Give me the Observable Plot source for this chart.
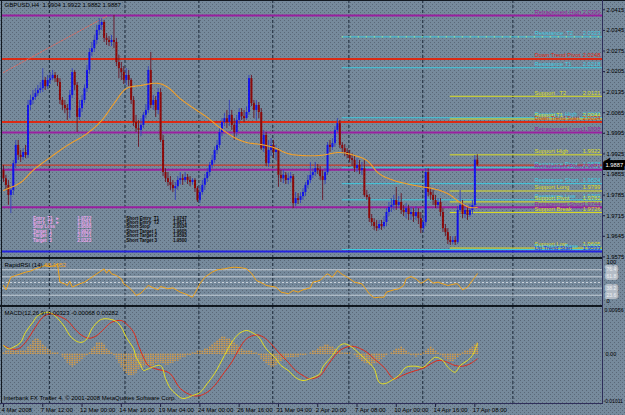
<!DOCTYPE html>
<html><head><meta charset="utf-8">
<script src="https://cdn.jsdelivr.net/npm/d3@7"></script>
<script src="https://cdn.jsdelivr.net/npm/@observablehq/plot@0.6"></script>
<style>
html,body{margin:0;padding:0;background:#768a9c;}
#chart{position:relative;width:625px;height:415px;overflow:hidden;background-color:#768a9c;
background-image:url("data:image/svg+xml;utf8,<svg xmlns='http://www.w3.org/2000/svg' width='4' height='4'><rect x='0' y='0' width='1' height='1' fill='%235a6878'/><rect x='2' y='2' width='1' height='1' fill='%235a6878'/></svg>");}
#chart svg{position:absolute;left:0;}
.ln{position:absolute;background:#111820;}
</style></head><body><div id="chart"></div><script>
// ---------- DATA ----------
const title = "GBPUSD,H4  1.9904 1.9922 1.9882 1.9887";
const openP = [1.9869,1.9841,1.9818,1.9784,1.9801,1.9892,1.9954,1.9920,1.9913,1.9930,
1.9920,2.0090,2.0107,2.0117,2.0130,2.0141,2.0147,2.0175,2.0154,2.0175,
2.0181,2.0192,2.0181,2.0168,2.0107,2.0090,2.0079,2.0073,2.0124,2.0202,
2.0158,2.0049,2.0079,2.0107,2.0147,2.0209,2.0270,2.0283,2.0311,2.0345,
2.0362,2.0372,2.0318,2.0311,2.0304,2.0311,2.0304,2.0236,2.0215,2.0202,
2.0175,2.0192,2.0175,2.0107,2.0032,2.0011,2.0005,2.0022,2.0056,2.0073,
2.0209,2.0090,2.0107,2.0073,2.0134,1.9971,1.9862,1.9841,1.9828,1.9818,
1.9807,1.9814,1.9835,1.9841,1.9835,1.9845,1.9835,1.9828,1.9835,1.9807,
1.9767,1.9794,1.9818,1.9841,1.9862,1.9886,1.9903,1.9937,1.9954,1.9998,
2.0032,2.0045,2.0032,2.0056,2.0022,1.9998,2.0039,2.0066,2.0052,2.0045,
2.0066,2.0181,2.0096,2.0073,2.0090,2.0066,1.9943,1.9988,1.9892,1.9937,
1.9954,1.9930,1.9937,1.9852,1.9841,1.9852,1.9835,1.9841,1.9848,1.9756,
1.9773,1.9767,1.9780,1.9794,1.9818,1.9835,1.9852,1.9862,1.9875,1.9869,
1.9848,1.9835,1.9862,1.9954,1.9947,1.9960,2.0005,2.0028,1.9954,1.9943,
1.9930,1.9920,1.9909,1.9903,1.9875,1.9886,1.9869,1.9875,1.9784,1.9777,
1.9705,1.9692,1.9678,1.9671,1.9685,1.9678,1.9692,1.9726,1.9743,1.9750,
1.9767,1.9750,1.9760,1.9733,1.9726,1.9739,1.9719,1.9726,1.9712,1.9726,
1.9705,1.9671,1.9692,1.9862,1.9794,1.9784,1.9767,1.9750,1.9760,1.9726,
1.9671,1.9658,1.9631,1.9624,1.9631,1.9624,1.9733,1.9750,1.9719,1.9733,
1.9716,1.9733,1.9750,1.9904];
const highP = [1.9886,1.9852,1.9835,1.9807,1.9903,1.9971,1.9971,1.9937,1.9943,1.9954,
2.0107,2.0124,2.0141,2.0147,2.0158,2.0168,2.0215,2.0185,2.0192,2.0202,
2.0209,2.0202,2.0192,2.0181,2.0117,2.0107,2.0093,2.0141,2.0215,2.0209,
2.0168,2.0107,2.0124,2.0161,2.0226,2.0283,2.0304,2.0328,2.0362,2.0385,
2.0385,2.0379,2.0334,2.0324,2.0328,2.0396,2.0318,2.0260,2.0236,2.0222,
2.0215,2.0209,2.0181,2.0120,2.0056,2.0039,2.0045,2.0066,2.0093,2.0222,
2.0270,2.0124,2.0120,2.0147,2.0147,1.9988,1.9875,1.9862,1.9848,1.9835,
1.9828,1.9848,1.9862,1.9855,1.9862,1.9855,1.9848,1.9841,1.9841,1.9814,
1.9814,1.9835,1.9855,1.9875,1.9896,1.9920,1.9950,1.9971,2.0011,2.0045,
2.0062,2.0073,2.0107,2.0073,2.0045,2.0056,2.0079,2.0079,2.0073,2.0086,
2.0192,2.0192,2.0107,2.0107,2.0100,2.0079,2.0005,1.9998,1.9971,1.9977,
1.9971,1.9954,1.9943,1.9869,1.9869,1.9862,1.9858,1.9862,1.9855,1.9794,
1.9790,1.9794,1.9807,1.9828,1.9852,1.9896,1.9875,1.9896,1.9889,1.9882,
1.9869,1.9875,1.9964,1.9971,1.9977,2.0018,2.0045,2.0039,1.9964,1.9957,
1.9943,1.9937,1.9926,1.9920,1.9909,1.9903,1.9896,1.9903,1.9801,1.9787,
1.9719,1.9705,1.9699,1.9699,1.9699,1.9712,1.9739,1.9760,1.9773,1.9784,
1.9811,1.9780,1.9790,1.9750,1.9756,1.9750,1.9743,1.9739,1.9746,1.9739,
1.9726,1.9712,1.9875,1.9875,1.9807,1.9801,1.9784,1.9773,1.9773,1.9739,
1.9685,1.9671,1.9644,1.9644,1.9644,1.9746,1.9801,1.9767,1.9753,1.9746,
1.9753,1.9767,1.9920,1.9922];
const lowP = [1.9828,1.9801,1.9750,1.9722,1.9784,1.9875,1.9903,1.9896,1.9903,1.9909,
1.9909,2.0073,2.0093,2.0107,2.0120,2.0130,2.0134,2.0141,2.0144,2.0161,
2.0175,2.0168,2.0154,2.0093,2.0073,2.0062,2.0039,2.0045,2.0113,2.0141,
1.9998,2.0039,2.0066,2.0096,2.0134,2.0195,2.0256,2.0270,2.0297,2.0328,
2.0345,2.0304,2.0294,2.0290,2.0290,2.0283,2.0222,2.0181,2.0175,2.0161,
2.0158,2.0154,2.0093,2.0018,1.9998,1.9947,1.9984,2.0011,2.0045,2.0062,
2.0079,2.0073,2.0049,2.0059,1.9964,1.9848,1.9828,1.9814,1.9801,1.9794,
1.9767,1.9801,1.9821,1.9818,1.9828,1.9821,1.9814,1.9818,1.9794,1.9760,
1.9756,1.9784,1.9801,1.9828,1.9848,1.9875,1.9892,1.9923,1.9943,1.9984,
2.0018,2.0011,2.0018,2.0005,1.9971,1.9984,2.0025,2.0039,2.0032,2.0039,
2.0056,2.0086,2.0045,2.0039,2.0045,1.9937,1.9930,1.9882,1.9879,1.9916,
1.9909,1.9903,1.9811,1.9828,1.9824,1.9821,1.9821,1.9828,1.9739,1.9746,
1.9753,1.9756,1.9767,1.9780,1.9807,1.9824,1.9841,1.9848,1.9855,1.9835,
1.9767,1.9821,1.9852,1.9930,1.9937,1.9947,1.9998,1.9943,1.9930,1.9916,
1.9909,1.9896,1.9882,1.9862,1.9862,1.9855,1.9852,1.9777,1.9767,1.9692,
1.9678,1.9665,1.9661,1.9665,1.9665,1.9671,1.9678,1.9712,1.9726,1.9733,
1.9733,1.9739,1.9719,1.9712,1.9705,1.9699,1.9699,1.9692,1.9699,1.9685,
1.9654,1.9658,1.9678,1.9780,1.9767,1.9750,1.9739,1.9739,1.9712,1.9658,
1.9644,1.9617,1.9614,1.9617,1.9614,1.9617,1.9719,1.9705,1.9705,1.9699,
1.9709,1.9719,1.9739,1.9882];
const closeP = [1.9841,1.9818,1.9784,1.9801,1.9892,1.9954,1.9920,1.9913,1.9930,1.9920,
2.0090,2.0107,2.0117,2.0130,2.0141,2.0147,2.0175,2.0154,2.0175,2.0181,
2.0192,2.0181,2.0168,2.0107,2.0090,2.0079,2.0073,2.0124,2.0202,2.0158,
2.0049,2.0079,2.0107,2.0147,2.0209,2.0270,2.0283,2.0311,2.0345,2.0362,
2.0372,2.0318,2.0311,2.0304,2.0311,2.0304,2.0236,2.0215,2.0202,2.0175,
2.0192,2.0175,2.0107,2.0032,2.0011,2.0005,2.0022,2.0056,2.0073,2.0209,
2.0090,2.0107,2.0073,2.0134,1.9971,1.9862,1.9841,1.9828,1.9818,1.9807,
1.9814,1.9835,1.9841,1.9835,1.9845,1.9835,1.9828,1.9835,1.9807,1.9767,
1.9794,1.9818,1.9841,1.9862,1.9886,1.9903,1.9937,1.9954,1.9998,2.0032,
2.0045,2.0032,2.0056,2.0022,1.9998,2.0039,2.0066,2.0052,2.0045,2.0066,
2.0181,2.0096,2.0073,2.0090,2.0066,1.9943,1.9988,1.9892,1.9937,1.9954,
1.9930,1.9937,1.9852,1.9841,1.9852,1.9835,1.9841,1.9848,1.9756,1.9773,
1.9767,1.9780,1.9794,1.9818,1.9835,1.9852,1.9862,1.9875,1.9869,1.9848,
1.9835,1.9862,1.9954,1.9947,1.9960,2.0005,2.0028,1.9954,1.9943,1.9930,
1.9920,1.9909,1.9903,1.9875,1.9886,1.9869,1.9875,1.9784,1.9777,1.9705,
1.9692,1.9678,1.9671,1.9685,1.9678,1.9692,1.9726,1.9743,1.9750,1.9767,
1.9750,1.9760,1.9733,1.9726,1.9739,1.9719,1.9726,1.9712,1.9726,1.9705,
1.9671,1.9692,1.9862,1.9794,1.9784,1.9767,1.9750,1.9760,1.9726,1.9671,
1.9658,1.9631,1.9624,1.9631,1.9624,1.9733,1.9750,1.9719,1.9733,1.9716,
1.9733,1.9750,1.9904,1.9887];

// moving average readings (bar index, value)
const maBar = [0,7,12,19,26,34,40,45,50,56,63,67,72,77,83,88,94,99,105,110,116,121,129,137,143,148,153,159,164,170,175,181,186,190,193];
const maVal = [1.9801,1.9828,1.9869,1.9913,1.9954,1.9994,2.0039,2.0096,2.0147,2.0158,2.0165,2.0151,2.0113,2.0083,2.0049,2.0015,1.9981,1.9964,1.9957,1.9947,1.9926,1.9920,1.9920,1.9930,1.9920,1.9903,1.9858,1.9835,1.9824,1.9814,1.9807,1.9790,1.9760,1.9743,1.9743];

// dotted trend line
const trendBar = [0, 42];
const trendVal = [2.0202, 2.0393];

// horizontal levels
const levelName = ["Retracement High","Resistance  T2","Down Trend Pivot","Resistance T1","Support   T2","Resistance High","Support T1","Down Trend Start","Retracement Long","Support High","Resistance Pivot","Retracement Pivot","Resistance Short","Support Long","Resistance Low","Support Pivot","Retracement Short","Support Break","Support Low","Resistance Base","Up Trend Start"];
const levelPrice = [2.0396,2.0323,2.0248,2.0218,2.0121,2.0048,2.0044,2.0034,1.9998,1.9922,1.9878,1.9871,1.9824,1.9799,1.9769,1.9762,1.9744,1.9726,1.9605,1.9600,1.9593];
const levelKind = ["retr","res2","down","res","sup","res","sup","down","retr","sup","res","retr","res","sup","res","sup","retr","sup","sup","res","up"];
const levelFrom = [0,138,0,138,182,138,182,0,0,182,138,0,138,182,138,182,0,182,182,138,0];
const bidPrice = 1.9887;

// small info tables drawn on the chart (anchored at bar, price)
const infoBar = [12, 30, 50, 69];
const infoPrice = [1.9712, 1.9712, 1.9712, 1.9712];
const infoKind = ["pink", "pink", "black", "black"];
const infoText = [
  "Entry  T1  \u25ba\nEntry  T2  \u25ba\nStop Loss\nTarget  1\nTarget  2\nTarget  3",
  "1.9722\n1.9761\n1.9588\n1.9922\n2.0121\n2.0323",
  "Short Entry  T1\nShort Entry  T2\nShort Stop\nShort Target 1\nShort Target 2\nShort Target 3",
  "1.9747\n1.9871\n2.0034\n1.9605\n1.9593\n1.9500"
];

const priceTicks = [2.0415,2.0345,2.0275,2.0205,2.0135,2.0065,1.9995,1.9925,1.9855,1.9785,1.9715,1.9645,1.9575];
const gridBars = [18.7,49.5,79.6,109.7,140.7,170.8,207.5];
const timeBars = [0,16,32,48,64,80,96,112,128,144,160,176,192];
const timeLabels = ["4 Mar 2008","7 Mar 12:00","12 Mar 00:00","14 Mar 16:00","19 Mar 04:00","24 Mar 00:00","26 Mar 16:00","31 Mar 04:00","2 Apr 20:00","7 Apr 08:00","10 Apr 00:00","14 Apr 16:00","17 Apr 08:00"];

// RSI
const rsiTitle = "RapidRSI (14) ";
const rsiValueText = "68.1052";
const rsiBar = [0,1,3,5,9,11,13,15,17,19,21,22,23,25,26,27,28,31,33,35,38,39,41,42,43,44,46,48,49,51,53,54,56,58,59,61,63,64,67,69,72,74,77,78,80,82,85,87,90,92,94,97,99,101,103,106,107,111,113,115,116,118,120,122,125,126,129,131,132,134,136,138,140,142,143,146,147,149,151,153,155,156,159,161,163,164,166,168,170,171,173,175,177,179,181,184,185,187,189,190,192,193];
const rsiVal = [43.8,34.7,61.1,64.6,71.5,73.6,78.5,81.9,85.4,83.3,85.4,88.9,50.7,47.2,43.8,52.8,40.3,47.2,50.7,57.6,68.1,71.5,78.5,69.4,76.4,68.1,64.6,57.6,47.2,40.3,29.9,22.9,27.8,38.9,43.8,38.9,34.7,41.7,36.8,38.9,29.9,26.4,19.4,27.8,47.2,61.1,71.5,76.4,78.5,80.6,81.9,80.6,78.5,69.4,54.2,47.2,43.8,40.3,29.9,27.8,26.4,33.3,29.9,34.7,38.9,50.7,54.2,64.6,68.1,61.1,75,66.7,61.1,54.2,50.7,47.2,40.3,26.4,18.1,19.4,19.4,29.9,34.7,36.8,43.8,57.6,62.5,57.6,48.6,50.7,57.6,48.6,50.7,47.2,43.8,47.2,47.2,34.7,40.3,47.2,61.1,68.1];
const rsiLevels = [76.4,61.8,50,38.2,23.6];

// MACD
const macdTitle = "MACD(12,26,9) 0.00323 -0.00068 0.00282";
const macdBar = [0,2,4,7,9,12,14,18,20,22,25,27,30,32,34,36,39,41,44,46,48,50,53,54,56,57,59,64,66,68,70,73,77,80,83,86,90,93,96,99,102,104,107,111,113,116,119,122,125,129,130,134,137,139,142,145,148,151,153,155,158,161,164,168,171,174,176,179,181,184,186,189,191,193];
const macdVal = [0.00173,0.00106,0.00138,0.00239,0.00440,0.00640,0.00775,0.00841,0.00809,0.00721,0.00540,0.00373,0.00253,0.00239,0.00307,0.00508,0.00674,0.00709,0.00694,0.00654,0.00540,0.00339,0.00106,-0.00062,-0.00229,-0.00329,-0.00295,-0.00229,-0.00490,-0.00690,-0.00791,-0.00891,-0.00831,-0.00771,-0.00590,-0.00389,-0.00028,0.00239,0.00413,0.00474,0.00413,0.00339,0.00106,-0.00094,-0.00229,-0.00329,-0.00470,-0.00530,-0.00490,-0.00389,-0.00263,-0.00028,0.00173,0.00207,0.00138,0.00006,-0.00128,-0.00295,-0.00564,-0.00596,-0.00530,-0.00430,-0.00263,-0.00243,-0.00263,-0.00128,-0.00062,-0.00128,-0.00263,-0.00363,-0.00229,-0.00128,-0.00028,0.00207];
const signalBar = [0,3,6,9,13,16,19,22,26,29,32,35,38,41,44,48,50,53,55,57,59,63,65,68,72,77,80,83,86,90,93,96,99,103,106,109,112,116,119,122,125,129,132,135,138,142,145,148,151,155,159,161,164,168,171,174,177,180,184,187,190,193];
const signalVal = [0.00173,0.00106,0.00106,0.00239,0.00540,0.00741,0.00809,0.00775,0.00674,0.00508,0.00373,0.00319,0.00373,0.00508,0.00640,0.00674,0.00608,0.00440,0.00173,-0.00062,-0.00229,-0.00309,-0.00329,-0.00395,-0.00690,-0.00831,-0.00831,-0.00765,-0.00630,-0.00363,-0.00163,0.00106,0.00307,0.00387,0.00339,0.00207,0.00038,-0.00163,-0.00329,-0.00430,-0.00496,-0.00430,-0.00229,-0.00028,0.00106,0.00159,0.00118,0.00038,-0.00094,-0.00263,-0.00496,-0.00464,-0.00395,-0.00329,-0.00283,-0.00195,-0.00128,-0.00149,-0.00229,-0.00243,-0.00195,-0.00094];
const histVal = [0.0004,0.0006,0.0008,0.0008,0.0010,0.0010,0.0008,0.0006,0.0006,
0.0008,0.0014,0.0020,0.0026,0.0032,0.0030,0.0026,0.0020,0.0014,0.0010,
0.0006,0.0004,0.0004,0.0002,0.0000,
-0.0006,-0.0012,-0.0018,-0.0022,-0.0026,-0.0024,-0.0020,-0.0016,-0.0012,-0.0006,-0.0002,
0.0004,0.0010,0.0016,0.0022,0.0024,0.0022,0.0018,0.0012,0.0006,0.0002,
-0.0004,-0.0010,-0.0018,-0.0026,-0.0034,-0.0040,-0.0044,-0.0044,-0.0042,-0.0038,-0.0032,-0.0028,-0.0026,
-0.0024,-0.0024,-0.0026,-0.0024,-0.0020,-0.0018,-0.0018,
-0.0020,-0.0022,-0.0022,-0.0020,-0.0018,-0.0016,-0.0014,-0.0010,-0.0008,-0.0006,-0.0004,-0.0002,
0.0002,0.0004,0.0006,0.0008,0.0008,0.0010,0.0012,
0.0016,0.0020,0.0024,0.0028,0.0032,0.0034,0.0034,0.0032,0.0030,0.0026,0.0022,0.0018,0.0014,0.0010,0.0008,
0.0008,0.0006,0.0006,0.0004,0.0002,
-0.0004,-0.0010,-0.0016,-0.0020,-0.0024,-0.0026,-0.0026,-0.0024,-0.0020,-0.0016,-0.0012,-0.0010,-0.0008,
-0.0008,-0.0008,-0.0006,-0.0006,-0.0004,-0.0004,-0.0002,0.0000,
0.0002,0.0006,0.0008,0.0012,0.0014,0.0016,0.0018,0.0018,0.0016,0.0014,0.0010,0.0008,0.0006,0.0004,
0.0004,0.0004,0.0002,0.0000,
-0.0004,-0.0008,-0.0012,-0.0016,-0.0018,-0.0020,-0.0022,-0.0022,-0.0020,-0.0018,-0.0016,-0.0012,-0.0008,-0.0004,
0.0000,0.0002,
0.0006,0.0010,0.0012,0.0014,0.0012,0.0008,
0.0002,-0.0002,-0.0004,-0.0006,-0.0004,-0.0002,
0.0002,0.0006,0.0010,0.0014,0.0012,0.0008,0.0004,
-0.0002,-0.0006,-0.0010,-0.0014,-0.0016,-0.0016,-0.0012,-0.0008,-0.0004,
0.0002,0.0006,0.0008,0.0012,0.0014,0.0018,0.0022];
const copyright = "Interbank FX Trader 4, \u00a9 2001-2008 MetaQuotes Software Corp.";

// ---------- STYLE ----------
const W = 625, mL = 2, mR = 23;
const xDomain = [-0.4, 244];
const FONT = "'Liberation Sans', Arial, sans-serif";
const kindColor = {retr: "#9a1fa0", res: "#3fcbe0", res2: "#3fcbe0", down: "#dc2a14", sup: "#dcdc22", up: "#2424e0", pink: "#eaa4ea", black: "#0c0c0c"};
const kindWidth = {retr: 2, res: 1, res2: 1, down: 2, sup: 1, up: 2};
const styleBase = {background: "transparent", fontFamily: FONT, fontSize: "6px", overflow: "visible", color: "#000"};

const bars = closeP.map((c, i) => ({i, o: openP[i], h: highP[i], l: lowP[i], c, up: c >= openP[i]}));
const levels = levelName.map((n, k) => ({name: n, price: levelPrice[k], kind: levelKind[k], from: levelFrom[k] === 0 ? -0.4 : levelFrom[k]}));
const ma = maBar.map((b, k) => ({b, v: maVal[k]}));
const trend = trendBar.map((b, k) => ({b, v: trendVal[k]}));
const rsi = rsiBar.map((b, k) => ({b, v: rsiVal[k]}));
const macd = macdBar.map((b, k) => ({b, v: macdVal[k]}));
const sig = signalBar.map((b, k) => ({b, v: signalVal[k]}));
const hist = histVal.map((v, i) => ({i, v}));
const times = timeBars.map((b, k) => ({b, t: timeLabels[k]}));
const info = infoBar.map((b, k) => ({b, p: infoPrice[k], kind: infoKind[k], t: infoText[k]}));

const gridMark = () => Plot.ruleX(gridBars, {stroke: "#1a2636", strokeDasharray: "3,2", strokeWidth: 1});

const main = Plot.plot({
  width: W, height: 258, marginLeft: mL, marginRight: mR, marginTop: 0, marginBottom: 0,
  x: {domain: xDomain, axis: null},
  y: {domain: [1.95695, 2.04467], axis: null},
  color: {type: "identity"},
  style: styleBase,
  marks: [
    gridMark(),
    Plot.ruleY(levels, {y: "price", x1: "from", x2: 244, stroke: d => kindColor[d.kind], strokeWidth: d => kindWidth[d.kind]}),
    Plot.ruleY(levels.filter(d => d.kind === "res2"), {y: "price", x1: "from", x2: 244, stroke: "#d8ff70", strokeDasharray: "1,7"}),
    Plot.ruleY([bidPrice], {stroke: "#dc2a14", strokeWidth: 1}),
    Plot.line(trend, {x: "b", y: "v", stroke: "#e06a60", strokeDasharray: "1.5,1.5", strokeWidth: 1}),
    Plot.ruleX(bars, {x: "i", y1: "l", y2: "h", stroke: d => d.up ? "#3a48b8" : "#6a2030", strokeWidth: 1}),
    Plot.ruleX(bars, {x: "i", y1: "o", y2: d => Math.abs(d.c - d.o) < 0.00004 ? d.o + 0.00004 : d.c, stroke: d => d.up ? "#1414e8" : "#8c0a0a", strokeWidth: 2}),
    Plot.line(ma, {x: "b", y: "v", curve: "catmull-rom", stroke: "#f2a02a", strokeWidth: 1.1, strokeDasharray: "2,0.6"}),
    Plot.text(info, {x: "b", y: "p", text: "t", fill: d => kindColor[d.kind], textAnchor: "start", lineAnchor: "top", fontSize: 4.6, fontWeight: "bold", lineHeight: 0.95}),
    Plot.text(levels, {y: "price", frameAnchor: "right", text: "name", textAnchor: "start", dx: -68, dy: -3.5, fill: d => kindColor[d.kind], fontSize: 5.8}),
    Plot.text(levels, {y: "price", frameAnchor: "right", text: d => d.price.toFixed(4), textAnchor: "end", dx: -2, dy: -3.5, fill: d => kindColor[d.kind], fontSize: 5.8}),
    Plot.axisY({anchor: "right", ticks: priceTicks, tickFormat: d => d.toFixed(4), tickSize: 2, tickPadding: 2, fontSize: 5.8, stroke: "#202040", fill: "#000", label: null}),
    Plot.text([bidPrice], {y: d => d, frameAnchor: "right", text: d => d.toFixed(4), textAnchor: "start", dx: 3, fill: "#fff", stroke: "#000", strokeWidth: 6, strokeLinejoin: "miter", fontSize: 5.8}),
    Plot.text([title], {frameAnchor: "top-left", dx: 2, dy: 5, lineAnchor: "middle", textAnchor: "start", fill: "#000", fontSize: 6})
  ]
});

const rsiPlot = Plot.plot({
  width: W, height: 48, marginLeft: mL, marginRight: mR, marginTop: 0, marginBottom: 0,
  x: {domain: xDomain, axis: null},
  y: {domain: [0, 100], axis: null},
  style: styleBase,
  marks: [
    gridMark(),
    Plot.ruleY(rsiLevels.filter(v => v !== 50), {stroke: "#c9d1da", strokeWidth: 1}),
    Plot.ruleY(rsiLevels.filter(v => v === 50), {stroke: "#c9d1da", strokeWidth: 1, strokeDasharray: "2,2"}),
    Plot.line(rsi, {x: "b", y: "v", stroke: "#f0a31c", strokeWidth: 1}),
    Plot.text([rsiTitle], {frameAnchor: "top-left", dx: 2, dy: 7, lineAnchor: "middle", textAnchor: "start", fill: "#000", fontSize: 6}),
    Plot.text([rsiValueText], {frameAnchor: "top-left", dx: 42, dy: 7, lineAnchor: "middle", textAnchor: "start", fill: "#f0a31c", fontSize: 6}),
    Plot.text(rsiLevels.filter(v => v !== 50), {y: d => d, frameAnchor: "right", text: d => d.toFixed(1), textAnchor: "start", dx: 4, fill: "#eef2f6", stroke: "#b4bcc6", strokeWidth: 4, fontSize: 5}),
    Plot.text(["100"], {frameAnchor: "top-right", dx: 4, dy: 4, lineAnchor: "middle", textAnchor: "start", fill: "#000", fontSize: 5.8}),
    Plot.text(["0"], {frameAnchor: "bottom-right", dx: 4, dy: -5, lineAnchor: "middle", textAnchor: "start", fill: "#000", fontSize: 5.8})
  ]
});

const macdPlot = Plot.plot({
  width: W, height: 109, marginLeft: mL, marginRight: mR, marginTop: 0, marginBottom: 11,
  x: {domain: xDomain, axis: null},
  y: {domain: [-0.01011, 0.00956], axis: null},
  style: styleBase,
  marks: [
    gridMark(),
    Plot.ruleX(hist, {x: "i", y1: 0, y2: "v", stroke: "#f0a030", strokeWidth: 1.6, strokeDasharray: "1,1"}),
    Plot.line(sig, {x: "b", y: "v", curve: "catmull-rom", stroke: "#e02a1a", strokeWidth: 1}),
    Plot.line(macd, {x: "b", y: "v", curve: "catmull-rom", stroke: "#e8e020", strokeWidth: 1}),
    Plot.text([macdTitle], {frameAnchor: "top-left", dx: 2, dy: 7, lineAnchor: "middle", textAnchor: "start", fill: "#000", fontSize: 6}),
    Plot.text([copyright], {frameAnchor: "bottom-left", dx: 1, dy: -6, lineAnchor: "middle", textAnchor: "start", fill: "#000", fontSize: 6}),
    Plot.text(["0.00956"], {frameAnchor: "top-right", dx: 2, dy: 4, lineAnchor: "middle", textAnchor: "start", fill: "#000", fontSize: 5.3}),
    Plot.text([0], {y: d => d, frameAnchor: "right", text: () => "0.00", dx: 3, textAnchor: "start", fill: "#000", fontSize: 5.5}),
    Plot.text(["-0.01011"], {frameAnchor: "bottom-right", dx: 1, dy: -3, lineAnchor: "middle", textAnchor: "start", fill: "#000", fontSize: 5}),
    Plot.text(times, {x: "b", text: "t", frameAnchor: "bottom", dy: 6, dx: -2, lineAnchor: "middle", textAnchor: "start", fill: "#000", fontSize: 6}),
    Plot.axisX({ticks: timeBars, tickSize: 3, tickFormat: () => "", stroke: "#202040", label: null})
  ]
});

const root = document.getElementById("chart");
[[main, 0], [rsiPlot, 258], [macdPlot, 306]].forEach(([el, top]) => { el.style.top = top + "px"; root.appendChild(el); });
// panel frame lines
[[0,0,625,1],[1,0,1,404],[0,257,602,2],[0,305,602,2],[0,403,602,1],[602,0,1,404]].forEach(([x,y,w,h]) => {
  const d = document.createElement("div"); d.className = "ln";
  Object.assign(d.style, {left: x+"px", top: y+"px", width: w+"px", height: h+"px"});
  if (x === 602 || y === 403) d.style.background = "#2e2e5a";
  root.appendChild(d);
});
</script></body></html>
